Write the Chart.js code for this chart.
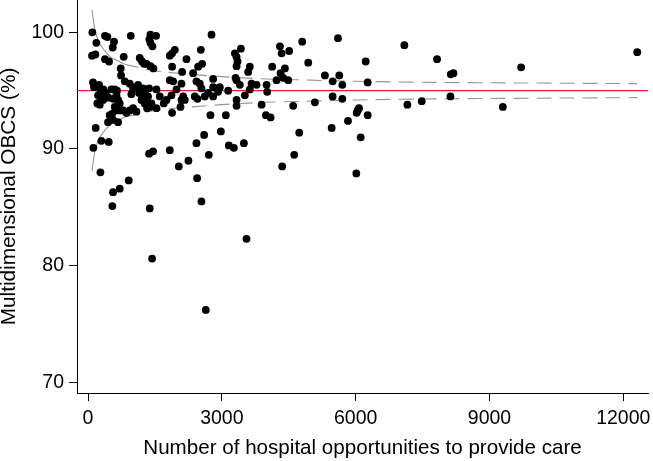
<!DOCTYPE html>
<html>
<head>
<meta charset="utf-8">
<script src="https://cdn.jsdelivr.net/npm/chart.js@4/dist/chart.umd.min.js"></script>
<style>
body { margin: 0; background: #fff; }
</style>
</head>
<body>
<canvas id="grafico" width="653" height="461"></canvas>
<script>
// hospitals: opportunities to provide care (x) and multidimensional OBCS % (y)
let opportunities = [
  97,187,90,165,112,135,247,284,262,209,225,263,172,120,278,300,
  381,434,583,554,381,471,344,396,456,524,598,651,337,561,599,539,487,449,562,673,621,674,637,464,561,546,711,696,
  800,733,741,958,711,786,861,936,1011,1085,824,936,1011,1123,1160,1235,1272,1198,1272,1385,972,1062,1144,1219,1294,1346,1421,1324,913,
  1399,1526,1376,1399,1444,1159,1212,1257,1316,1399,1466,1369,1459,1384,1436,1369,
  1534,1609,1759,1871,1908,1983,2095,2133,2170,1533,1698,1885,2073,1833,1885,1946,2208,1885,2109,1833,2356,2468,2558,2529,2769,
  2431,2506,2543,2394,2454,2618,2693,2805,2917,2880,2805,2805,1833,2035,2251,2446,2431,2603,2708,2543,2640,2745,2096,
  2955,3142,2978,3090,3157,3270,3494,3307,3292,3330,3352,3330,3427,3590,3628,3666,3516,3330,3329,3329,3553,3404,3628,3779,3891,
  4003,4017,4129,4302,4340,4510,4414,4317,4376,4488,4227,4802,4937,3988,4093,4600,5087,4735,4623,4353,
  5311,5484,5604,5633,5701,5484,5701,5462,5828,6023,6045,6075,6270,6113,6015,6225,6270,
  7092,7160,7481,7825,8132,8192,8125,9299,9710,12313
];
let obcs = [
  100.0,99.1,98.0,98.1,95.7,95.3,95.5,95.0,94.5,93.9,94.6,93.8,91.8,90.1,88.0,90.7,
  99.7,99.6,99.2,98.7,97.7,97.5,95.1,94.8,94.4,95.1,95.1,95.0,94.2,94.3,93.6,93.0,92.9,92.3,92.5,92.3,93.3,94.2,94.6,90.6,86.3,85.1,86.6,93.3,
  97.9,96.9,96.3,99.7,93.9,93.3,93.1,93.3,93.5,93.2,95.8,95.6,95.2,95.5,95.1,95.2,94.8,94.2,93.9,93.6,94.7,95.3,94.8,94.5,94.2,94.5,93.9,93.5,87.3,
  99.8,99.7,99.4,99.1,98.8,97.8,97.5,97.3,97.3,97.1,96.9,89.6,89.8,84.9,80.6,95.2,
  95.1,94.5,94.2,94.6,95.8,95.1,95.6,94.5,94.2,93.5,93.9,93.1,93.6,98.0,98.2,98.5,97.7,97.05,96.6,95.9,96.5,97.05,97.3,98.5,99.8,
  95.8,95.6,95.2,94.5,94.3,94.5,94.8,94.5,94.9,95.2,96.0,95.3,89.9,88.5,89.0,87.5,90.5,91.2,89.5,85.5,76.2,92.9,94.2,
  95.3,95.0,91.5,92.9,90.3,90.1,90.5,96.1,98.2,97.9,97.5,97.1,98.6,96.6,97.05,95.6,94.6,94.2,93.7,95.9,82.3,95.5,95.1,95.5,93.8,
  95.5,94.9,97.05,98.8,98.2,98.4,96.9,96.5,96.1,95.9,95.9,99.2,97.4,92.9,92.7,93.7,94.0,91.4,89.5,88.5,
  96.3,95.8,99.5,96.3,95.5,94.5,94.3,91.8,92.4,93.1,93.3,93.5,92.9,91.0,87.9,97.5,95.7,
  98.9,93.8,94.1,97.7,96.4,96.5,94.5,93.6,97.0,98.3
];

let target = 95;
let limitN = [90,120,150,200,250,300,400,500,600,800,1000,1500,2000,3000,4000,5000,6000,8000,10000,12313];
let upperLimit = [101.9,101.0,100.3,99.6,99.1,98.8,98.3,97.9,97.7,97.3,97.1,96.7,96.5,96.2,96.0,95.9,95.8,95.7,95.65,95.6];
let lowerLimit = [88.1,89.0,89.7,90.4,90.9,91.2,91.7,92.1,92.3,92.7,92.9,93.3,93.5,93.8,94.0,94.1,94.2,94.3,94.35,94.4];

let xTicks = [0,3000,6000,9000,12000];
let yTicks = [70,80,90,100];
let xMin = -247, xMax = 12554;
let yMin = 69.08, yMax = 102.77;

let fuente = 'Liberation Sans, Arial, Helvetica, sans-serif';
let gris = 'rgb(150,150,150)';
let discontinua = c => c.p0.parsed.x >= 800 ? [15, 8] : undefined;

let ctx = document.getElementById('grafico').getContext('2d');
let grafico = new Chart(ctx, {
  type: 'scatter',
  data: {
    datasets: [
      {
        label: 'Hospitals',
        data: opportunities.map((x, i) => ({x: x, y: obcs[i]})),
        backgroundColor: '#000',
        borderColor: '#000',
        pointRadius: 3.9,
        borderWidth: 0
      },
      {
        label: 'Target',
        data: [{x: xMin, y: target}, {x: xMax, y: target}],
        showLine: true,
        borderColor: 'rgb(236,28,36)',
        borderWidth: 1.4,
        pointRadius: 0
      },
      {
        label: 'Upper limit',
        data: limitN.map((n, i) => ({x: n, y: upperLimit[i]})),
        showLine: true,
        borderColor: gris,
        borderWidth: 1.1,
        pointRadius: 0,
        cubicInterpolationMode: 'monotone',
        borderDash: [],
        segment: {borderDash: discontinua}
      },
      {
        label: 'Lower limit',
        data: limitN.map((n, i) => ({x: n, y: lowerLimit[i]})),
        showLine: true,
        borderColor: gris,
        borderWidth: 1.1,
        pointRadius: 0,
        cubicInterpolationMode: 'monotone',
        borderDash: [],
        segment: {borderDash: discontinua}
      }
    ]
  },
  options: {
    responsive: false,
    animation: false,
    devicePixelRatio: 1,
    layout: {autoPadding: false, padding: {left: 0, right: 5, top: 0, bottom: 0}},
    plugins: {legend: {display: false}, tooltip: {enabled: false}},
    scales: {
      x: {
        type: 'linear',
        min: xMin,
        max: xMax,
        afterBuildTicks: a => { a.ticks = xTicks.map(v => ({value: v})); },
        afterFit: s => { s.height = 68; s.paddingLeft = 0; s.paddingRight = 0; },
        grid: {drawOnChartArea: false, drawTicks: true, tickLength: 8, color: '#000'},
        border: {display: true, color: '#000', width: 1},
        ticks: {color: '#000', padding: 8, maxRotation: 0, font: {family: fuente, size: 19.5, lineHeight: 1}, callback: v => String(v)},
        title: {display: true, text: 'Number of hospital opportunities to provide care', color: '#000',
                font: {family: fuente, size: 20.6, lineHeight: 1}, padding: {top: 0, bottom: 2}}
      },
      y: {
        type: 'linear',
        min: yMin,
        max: yMax,
        afterBuildTicks: a => { a.ticks = yTicks.map(v => ({value: v})); },
        afterFit: s => { s.width = 77; s.paddingTop = 0; s.paddingBottom = 0; },
        grid: {drawOnChartArea: false, drawTicks: true, tickLength: 8, color: '#000'},
        border: {display: true, color: '#000', width: 1},
        ticks: {color: '#000', padding: 5, font: {family: fuente, size: 19.5, lineHeight: 1}, callback: v => String(v)},
        title: {display: true, text: 'Multidimensional OBCS (%)', color: '#000',
                font: {family: fuente, size: 20.8, lineHeight: 0.85}, padding: {top: 0, bottom: 0}}
      }
    }
  }
});
</script>
</body>
</html>
